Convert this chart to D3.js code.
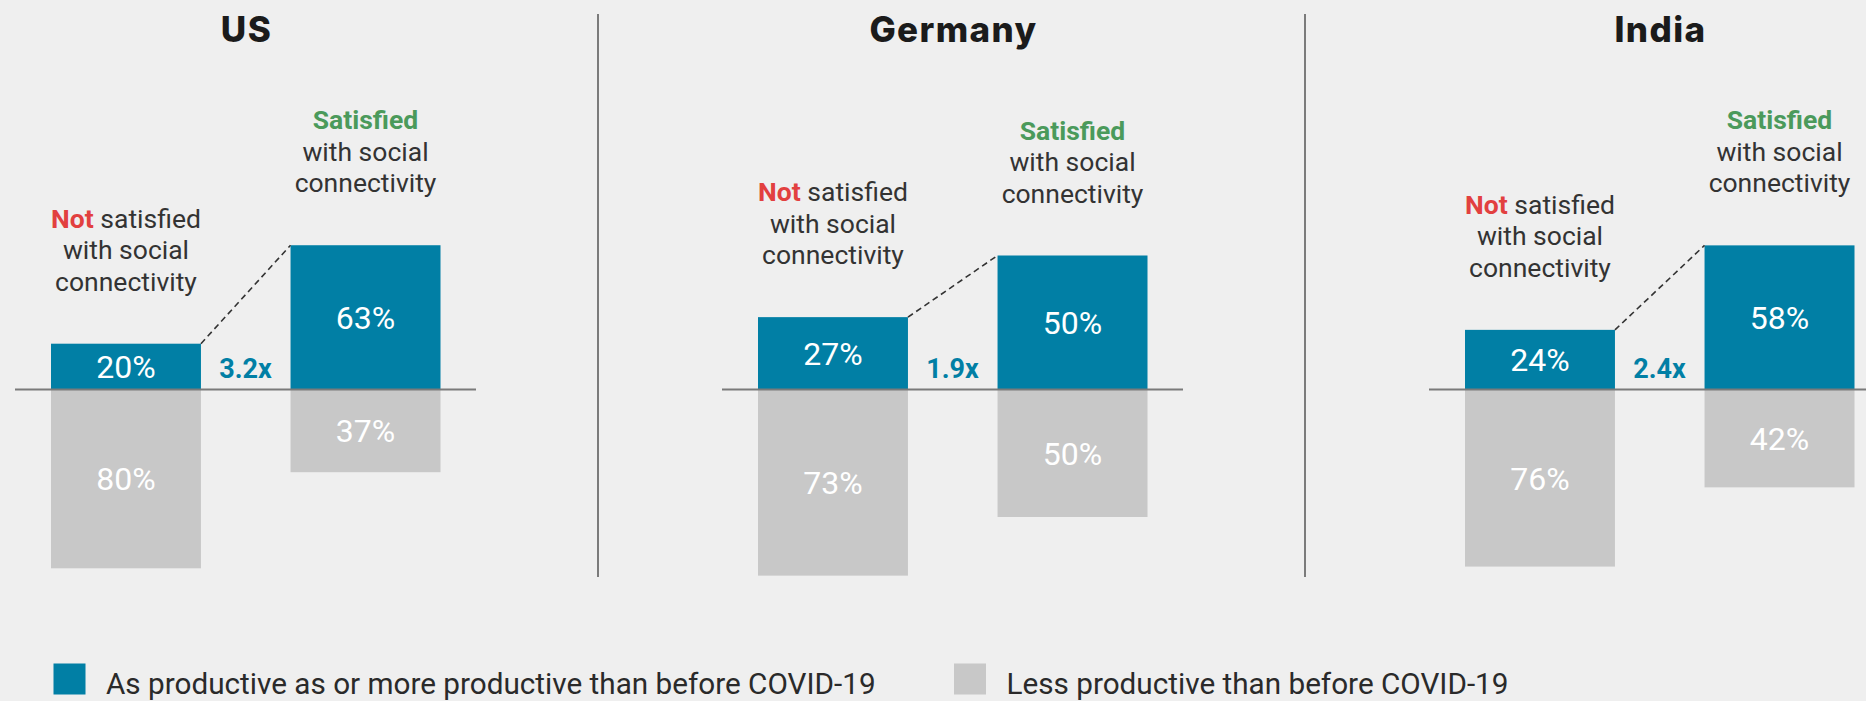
<!DOCTYPE html>
<html>
<head>
<meta charset="utf-8">
<script src="https://cdn.jsdelivr.net/npm/d3@7/dist/d3.min.js"></script>
<style>
  html, body { margin: 0; padding: 0; background: #efefef; }
  svg { display: block; }
  text { font-family: Roboto, "Noto Sans", sans-serif; }
</style>
</head>
<body>
<svg id="chart" width="1866" height="701"></svg>
<script>
// Share of workers by productivity, split by satisfaction with social connectivity
const countries = ["US", "Germany", "India"];
const groups = ["not", "sat"];
const productiveNotSatisfied = [20, 27, 24];
const lessNotSatisfied = [80, 73, 76];
const productiveSatisfied = [63, 50, 58];
const lessSatisfied = [37, 50, 42];
const multipliers = ["3.2x", "1.9x", "2.4x"];
const groupLead = ["Not", "Satisfied"];
const groupLeadRest = [" satisfied", ""];
const groupLines = ["with social", "connectivity"];
const legendLabels = [
  "As productive as or more productive than before COVID-19",
  "Less productive than before COVID-19"
];

// layout
const W = 1866, H = 701;
const baseY = 389.5;
const spanUp = [229, 268, 248.5];     // pixel height of 100% above the zero line, per panel
const spanDown = [223.5, 255, 233];   // pixel height of 100% below the zero line, per panel
const colors = { prod: "#017fa5", less: "#c8c8c8", not: "#e2403f", sat: "#4b9a5b", text: "#333333" };

const svg = d3.select("#chart");
svg.append("rect").attr("width", W).attr("height", H).attr("fill", "#efefef");

const px = d3.scalePoint().domain(countries).range([245.5, 1659.5]);
const bx = d3.scaleBand().domain(groups).range([-194.5, 195]).paddingInner(0.374).paddingOuter(0);

// dividers between panels
const divs = d3.pairs(countries).map(([a, b]) => (px(a) + px(b)) / 2 - 1);
svg.selectAll("line.divider").data(divs).join("line")
  .attr("class", "divider")
  .attr("x1", d => d).attr("x2", d => d)
  .attr("y1", 14).attr("y2", 577)
  .attr("stroke", "#555").attr("stroke-width", 1.5);

countries.forEach((c, i) => {
  const g = svg.append("g").attr("transform", `translate(${px(c)},0)`);
  const y = d3.scaleLinear().domain([-100, 0, 100])
    .range([baseY + spanDown[i], baseY, baseY - spanUp[i]]);

  const cols = [
    { key: "not", up: productiveNotSatisfied[i], down: lessNotSatisfied[i] },
    { key: "sat", up: productiveSatisfied[i], down: lessSatisfied[i] }
  ];

  // title
  g.append("text")
    .attr("x", 1).attr("y", 42)
    .attr("text-anchor", "middle")
    .style("font-family", "Inter, 'DejaVu Sans', sans-serif")
    .style("font-weight", 800)
    .style("font-size", "35px")
    .style("letter-spacing", "1.4px")
    .attr("fill", "#1b1b1b")
    .text(c);

  // bars
  const bw = bx.bandwidth();
  g.selectAll("rect.up").data(cols).join("rect")
    .attr("x", d => bx(d.key)).attr("width", bw)
    .attr("y", d => y(d.up)).attr("height", d => y(0) - y(d.up))
    .attr("fill", colors.prod);
  g.selectAll("rect.down").data(cols).join("rect")
    .attr("x", d => bx(d.key)).attr("width", bw)
    .attr("y", y(0)).attr("height", d => y(-d.down) - y(0))
    .attr("fill", colors.less);

  // value labels
  g.selectAll("text.upv").data(cols).join("text")
    .attr("x", d => bx(d.key) + bw / 2)
    .attr("y", d => (y(d.up) + y(0)) / 2 + 11.5)
    .attr("text-anchor", "middle")
    .style("font-size", "32px").attr("fill", "#fff")
    .text(d => d.up + "%");
  g.selectAll("text.downv").data(cols).join("text")
    .attr("x", d => bx(d.key) + bw / 2)
    .attr("y", d => (y(-d.down) + y(0)) / 2 + 11.5)
    .attr("text-anchor", "middle")
    .style("font-size", "32px").attr("fill", "#fff")
    .text(d => d.down + "%");

  // zero line
  g.append("line")
    .attr("x1", -230.5).attr("x2", 230.5)
    .attr("y1", y(0)).attr("y2", y(0))
    .attr("stroke", "#7a7a7a").attr("stroke-width", 2);

  // dashed connector between bar tops
  g.append("line")
    .attr("x1", bx("not") + bw).attr("y1", y(cols[0].up))
    .attr("x2", bx("sat")).attr("y2", y(cols[1].up))
    .attr("stroke", "#333").attr("stroke-width", 1.6)
    .attr("stroke-dasharray", "6,4");

  // multiplier
  g.append("text")
    .attr("x", 0).attr("y", 377.5)
    .attr("text-anchor", "middle")
    .style("font-size", "27px").style("font-weight", 700)
    .attr("fill", colors.prod)
    .text(multipliers[i]);

  // group captions above bars
  cols.forEach((d, k) => {
    const lastBase = y(d.up) - 53;
    const t = g.append("text")
      .attr("text-anchor", "middle")
      .style("font-size", "26.5px")
      .attr("fill", colors.text);
    const cx = bx(d.key) + bw / 2;
    const first = t.append("tspan").attr("x", cx).attr("y", lastBase - 2 * 31.5);
    first.append("tspan").style("font-weight", 700).attr("fill", colors[d.key]).text(groupLead[k]);
    first.append("tspan").text(groupLeadRest[k]);
    groupLines.forEach((l, j) => {
      t.append("tspan").attr("x", cx).attr("y", lastBase - (1 - j) * 31.5).text(l);
    });
  });
});

// legend
const legend = svg.append("g");
const lx = d3.scaleOrdinal().domain(legendLabels).range([53.5, 954]);
const lcol = d3.scaleOrdinal().domain(legendLabels).range([colors.prod, colors.less]);
legend.selectAll("rect").data(legendLabels).join("rect")
  .attr("x", d => lx(d)).attr("y", 663.5)
  .attr("width", 32).attr("height", 31)
  .attr("fill", d => lcol(d));
legend.selectAll("text").data(legendLabels).join("text")
  .attr("x", d => lx(d) + 52.5).attr("y", 694)
  .style("font-size", "29.7px").attr("fill", "#2a2a2a")
  .text(d => d);
</script>
</body>
</html>
